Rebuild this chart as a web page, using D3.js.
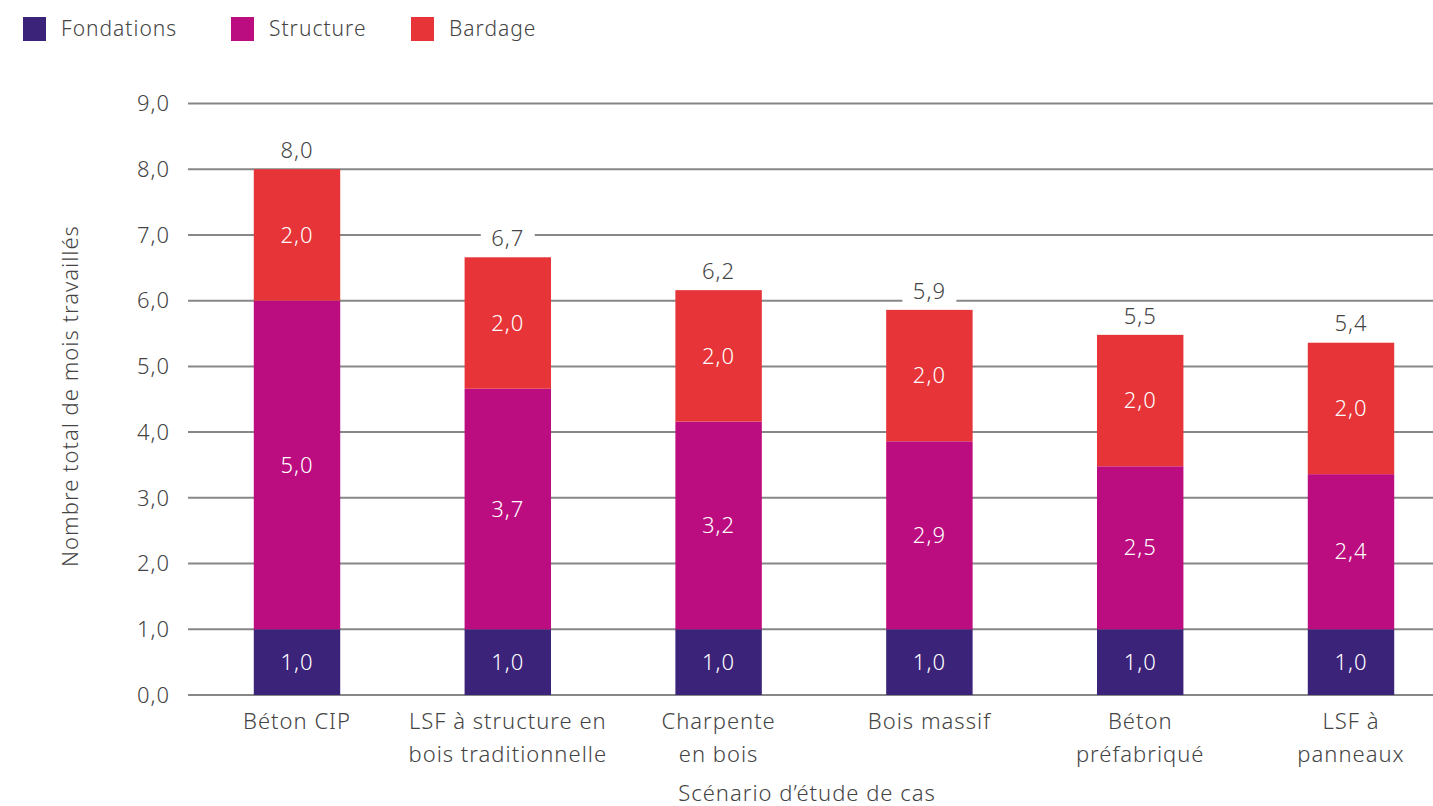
<!DOCTYPE html>
<html>
<head>
<meta charset="utf-8">
<script src="https://cdn.jsdelivr.net/npm/d3@7"></script>
<style>
  body { margin: 0; background: #fff; }
  svg text { font-family: "Noto Sans", "Open Sans", sans-serif; font-weight: 300; fill: #444; letter-spacing: 1px; }
</style>
</head>
<body>
<div id="chart"></div>
<script>
var categories = [
    ["Béton CIP"],
    ["LSF à structure en", "bois traditionnelle"],
    ["Charpente", "en bois"],
    ["Bois massif"],
    ["Béton", "préfabriqué"],
    ["LSF à", "panneaux"]
];
var series = ["Fondations", "Structure", "Bardage"];
var colors = ["#3c237a", "#bb0c80", "#e63439"];
var fondations = [1.0, 1.0, 1.0, 1.0, 1.0, 1.0];
var structure = [5.0, 3.66, 3.16, 2.86, 2.48, 2.36];
var bardage = [2.0, 2.0, 2.0, 2.0, 2.0, 2.0];
var yTicks = [0, 1, 2, 3, 4, 5, 6, 7, 8, 9];

var W = 1433, H = 806;
var fmt = function (v) { return d3.format(".1f")(v).replace(".", ","); };

var svg = d3.select("#chart")
    .append("svg")
    .attr("width", W)
    .attr("height", H);

var data = categories.map(function (c, i) {
    return { i: i, Fondations: fondations[i], Structure: structure[i], Bardage: bardage[i] };
});
var stacked = d3.stack().keys(series)(data);

var x = d3.scaleBand()
    .domain(d3.range(categories.length))
    .range([191.6, 1456.4])
    .paddingInner(0.59)
    .paddingOuter(0.295);

var y = d3.scaleLinear()
    .domain([0, 9])
    .range([695, 103.5]);

// gridlines
svg.append("g")
    .selectAll("line")
    .data(yTicks)
    .enter()
    .append("line")
    .attr("x1", 188)
    .attr("x2", W)
    .attr("y1", d => y(d))
    .attr("y2", d => y(d))
    .attr("stroke", "#878787")
    .attr("stroke-width", 2);

// y tick labels
svg.append("g")
    .selectAll("text")
    .data(yTicks)
    .enter()
    .append("text")
    .attr("x", 170)
    .attr("y", d => y(d))
    .attr("dy", "0.35em")
    .attr("text-anchor", "end")
    .style("font-size", "22px")
    .text(d => fmt(d));

// bars
var layers = svg.append("g")
    .selectAll("g")
    .data(stacked)
    .enter()
    .append("g")
    .attr("fill", (d, i) => colors[i]);

layers.selectAll("rect")
    .data(d => d)
    .enter()
    .append("rect")
    .attr("x", d => x(d.data.i))
    .attr("width", x.bandwidth())
    .attr("y", d => y(d[1]))
    .attr("height", d => y(d[0]) - y(d[1]));

// segment labels
layers.selectAll("text")
    .data(d => d)
    .enter()
    .append("text")
    .attr("x", d => x(d.data.i) + x.bandwidth() / 2)
    .attr("y", d => y((d[0] + d[1]) / 2))
    .attr("dy", "0.35em")
    .attr("text-anchor", "middle")
    .style("font-size", "22px")
    .style("fill", "#fff")
    .text(d => fmt(d[1] - d[0]));

// total labels with white background
var totals = svg.append("g")
    .selectAll("g")
    .data(data)
    .enter()
    .append("g")
    .attr("transform", function (d) {
        var t = d.Fondations + d.Structure + d.Bardage;
        return "translate(" + (x(d.i) + x.bandwidth() / 2) + "," + (y(t) - 19) + ")";
    });
totals.append("rect")
    .attr("x", -27)
    .attr("y", -13)
    .attr("width", 54)
    .attr("height", 26)
    .attr("fill", "#fff");
totals.append("text")
    .attr("text-anchor", "middle")
    .attr("dy", "0.35em")
    .style("font-size", "22px")
    .text(d => fmt(d.Fondations + d.Structure + d.Bardage));

// x category labels
var xl = svg.append("g")
    .selectAll("text")
    .data(categories)
    .enter()
    .append("text")
    .attr("x", (d, i) => x(i) + x.bandwidth() / 2)
    .attr("y", 729)
    .attr("text-anchor", "middle")
    .style("font-size", "22px");
xl.selectAll("tspan")
    .data(d => d)
    .enter()
    .append("tspan")
    .attr("x", function () { return d3.select(this.parentNode).attr("x"); })
    .attr("dy", (d, j) => j === 0 ? 0 : 33)
    .text(d => d);

// axis titles
svg.append("text")
    .attr("x", 807)
    .attr("y", 801)
    .attr("text-anchor", "middle")
    .style("font-size", "22px")
    .text("Scénario d’étude de cas");

svg.append("text")
    .attr("transform", "translate(78,396) rotate(-90)")
    .attr("text-anchor", "middle")
    .style("font-size", "22px")
    .text("Nombre total de mois travaillés");

// legend
var legendX = [23, 231, 411];
var legend = svg.append("g")
    .selectAll("g")
    .data(series)
    .enter()
    .append("g")
    .attr("transform", (d, i) => "translate(" + legendX[i] + ",17)");
legend.append("rect")
    .attr("width", 23)
    .attr("height", 24)
    .attr("fill", (d, i) => colors[i]);
legend.append("text")
    .attr("x", 38)
    .attr("y", 12)
    .attr("dy", "0.35em")
    .style("font-size", "21px")
    .text(d => d);
</script>
</body>
</html>
